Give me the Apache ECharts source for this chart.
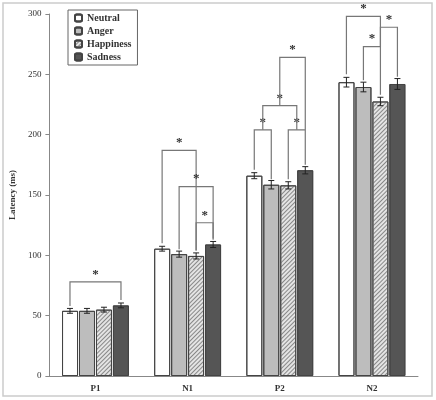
<!DOCTYPE html><html><head><meta charset="utf-8"><script src="https://cdn.jsdelivr.net/npm/echarts@6/dist/echarts.min.js"></script></head><body style="margin:0"><div id="c" style="width:436px;height:400px"></div><script>
const categories=['P1','N1','P2','N2'];
const seriesNames=['Neutral','Anger','Happiness','Sadness'];
const neutral=[54,105.5,166,243.5];
const anger=[54,101,158.5,239.5];
const happiness=[55,99.5,158,227.5];
const sadness=[58.5,109,170.5,242];
const errNeutral=[2,2,2.5,4];
const errAnger=[2,2.5,3.5,4];
const errHappiness=[2,2.5,3,3.5];
const errSadness=[2,2.5,3,4.5];
// brackets: [category, fromBar, toBar, top, leftLegBottom, rightLegBottom]
const brackets=[
 [0,0,3,78,58,63],
 [1,0,2,187,110,104],
 [1,1,3,157,105,114],
 [1,2,3,127,104,113],
 [2,0,1,204,171,163],
 [2,2,3,204,163,175],
 [2,0.5,2.5,224,204,204],
 [2,1.5,3,264,224,204],
 [3,0,2,298,250,273],
 [3,1,2,273,245,233],
 [3,2,3,289,273,248]
];
const vals=[neutral,anger,happiness,sadness];
const errs=[errNeutral,errAnger,errHappiness,errSadness];
const STEP=17;
const chart=echarts.init(document.getElementById('c'));
const errData=[];
vals.forEach((v,s)=>v.forEach((y,c)=>errData.push([c,y,errs[s][c],s])));
const colors=['#ffffff','#bdbdbd','#e4e4e4','#555555'];
const barSeries=seriesNames.map((n,i)=>({name:n,type:'bar',data:vals[i],barWidth:16,barGap:'6%',
 itemStyle:{color:colors[i],borderColor:'#444',borderWidth:1,
  decal:i===2?{symbol:'rect',symbolSize:1,dashArrayX:[1,0],dashArrayY:[1,2],rotation:-Math.PI/4,color:'#888'}:{symbol:'none'}}}));
chart.setOption({
 animation:false,
 aria:{enabled:true,decal:{show:true}},
 textStyle:{fontFamily:'Liberation Serif'},
 grid:{left:42,right:18,top:14,bottom:24},
 graphic:[{type:'rect',shape:{x:3,y:3,width:429,height:393},style:{fill:'none',stroke:'#ccc',lineWidth:1.5}}],
 legend:{orient:'vertical',left:68,top:10,itemWidth:7,itemHeight:7,itemGap:3,padding:[3,6],borderColor:'#666',borderWidth:1,
  textStyle:{fontFamily:'Liberation Serif',fontSize:10,fontWeight:'bold',color:'#333'},data:seriesNames},
 xAxis:{type:'category',data:categories,axisTick:{show:false},axisLine:{lineStyle:{color:'#888'}},
  axisLabel:{fontWeight:'bold',fontSize:9,color:'#333',fontFamily:'Liberation Serif'}},
 yAxis:{type:'value',min:0,max:300,interval:50,name:'Latency (ms)',nameLocation:'middle',nameGap:28,
  nameTextStyle:{fontWeight:'bold',fontSize:9,color:'#333'},splitLine:{show:false},
  axisLine:{show:true,lineStyle:{color:'#888'}},axisTick:{show:true,length:4},axisLabel:{fontSize:9,color:'#333'}},
 series:[...barSeries,
 {type:'custom',data:errData,z:5,renderItem:(p,api)=>{
   const c=api.value(0),y=api.value(1),e=api.value(2),s=api.value(3);
   const x=api.coord([c,0])[0]+(s-1.5)*STEP;
   const t=api.coord([c,y+e])[1],b=api.coord([c,y-e])[1];
   const st={stroke:'#222',lineWidth:1};
   return {type:'group',children:[
    {type:'line',shape:{x1:x,y1:t,x2:x,y2:b},style:st},
    {type:'line',shape:{x1:x-3,y1:t,x2:x+3,y2:t},style:st},
    {type:'line',shape:{x1:x-3,y1:b,x2:x+3,y2:b},style:st}]};
 }},
 {type:'custom',data:brackets,z:6,renderItem:(p,api)=>{
   const c=api.value(0);
   const cx=api.coord([c,0])[0];
   const x1=cx+(api.value(1)-1.5)*STEP,x2=cx+(api.value(2)-1.5)*STEP;
   const t=api.coord([c,api.value(3)])[1],b1=api.coord([c,api.value(4)])[1],b2=api.coord([c,api.value(5)])[1];
   return {type:'group',children:[
    {type:'polyline',shape:{points:[[x1,b1],[x1,t],[x2,t],[x2,b2]]},style:{stroke:'#777',lineWidth:1.2,fill:'none'}},
    {type:'text',style:{text:'*',x:(x1+x2)/2,y:t-1,align:'center',verticalAlign:'bottom',fontSize:13,fontWeight:'bold',fill:'#333',fontFamily:'Liberation Serif'}}]};
 }}]
});
</script></body></html>
